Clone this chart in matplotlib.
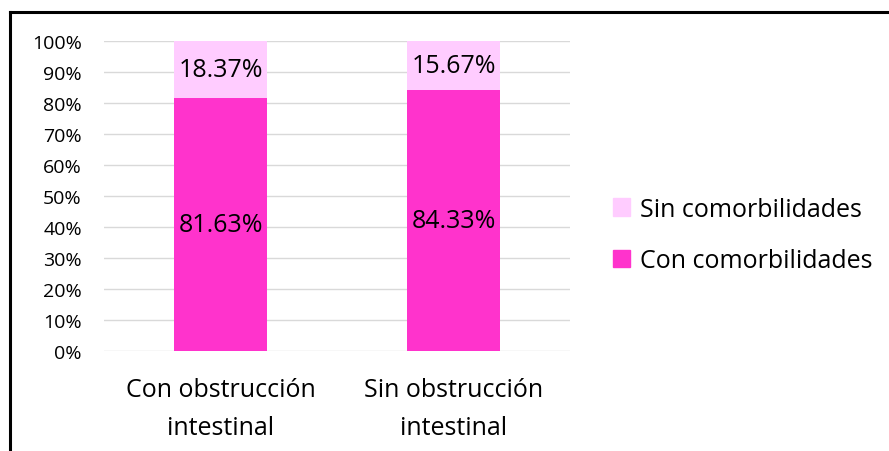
import matplotlib.pyplot as plt
from matplotlib.lines import Line2D
from matplotlib.patches import Patch

plt.rcParams['font.family'] = ['Open Sans', 'DejaVu Sans']

categories = ["Con obstrucción\nintestinal", "Sin obstrucción\nintestinal"]
con_comorb = [81.63, 84.33]
sin_comorb = [18.37, 15.67]
yticks = [0, 10, 20, 30, 40, 50, 60, 70, 80, 90, 100]

dark = "#FF33CC"
light = "#FFCCFF"

fig = plt.figure(figsize=(8.89, 4.52), dpi=100)
ax = fig.add_axes([104 / 889, 1 - 352 / 452, 466 / 889, 310 / 452])

x = range(len(categories))
ax.bar(x, con_comorb, width=0.4, color=dark, zorder=3)
ax.bar(x, sin_comorb, width=0.4, bottom=con_comorb, color=light, zorder=3)

for i in x:
    ax.text(i, con_comorb[i] / 2, f"{con_comorb[i]:.2f}%", ha="center", va="center", fontsize=18, zorder=4)
    ax.text(i, con_comorb[i] + sin_comorb[i] / 2, f"{sin_comorb[i]:.2f}%", ha="center", va="center", fontsize=18, zorder=4)

ax.set_xlim(-0.5, 1.5)
ax.set_ylim(0, 100)
ax.set_yticks(yticks)
ax.set_yticklabels([f"{t}%" for t in yticks], fontsize=14)
ax.set_xticks(list(x))
ax.set_xticklabels(categories, fontsize=18, linespacing=1.65)
ax.tick_params(length=0)
ax.tick_params(axis="y", pad=16)
ax.tick_params(axis="x", pad=19)
ax.grid(axis="y", color="#D9D9D9", linewidth=1, zorder=0)
for s in ax.spines.values():
    s.set_visible(False)

handles = [Patch(color=light), Patch(color=dark)]
fig.legend(handles, ["Sin comorbilidades", "Con comorbilidades"], loc="center left",
           bbox_to_anchor=(590 / 889, 1 - 236 / 452), frameon=False, fontsize=18,
           handlelength=0.7, handleheight=0.7, handletextpad=0.4, labelspacing=1.05)

# outer border (top and left)
fig.add_artist(Line2D([10 / 889, 1], [1 - 13 / 452, 1 - 13 / 452], color="black", linewidth=2.2, transform=fig.transFigure))
fig.add_artist(Line2D([10 / 889, 10 / 889], [0, 1 - 13 / 452], color="black", linewidth=2.2, transform=fig.transFigure))

fig.savefig("out.png", dpi=100)
